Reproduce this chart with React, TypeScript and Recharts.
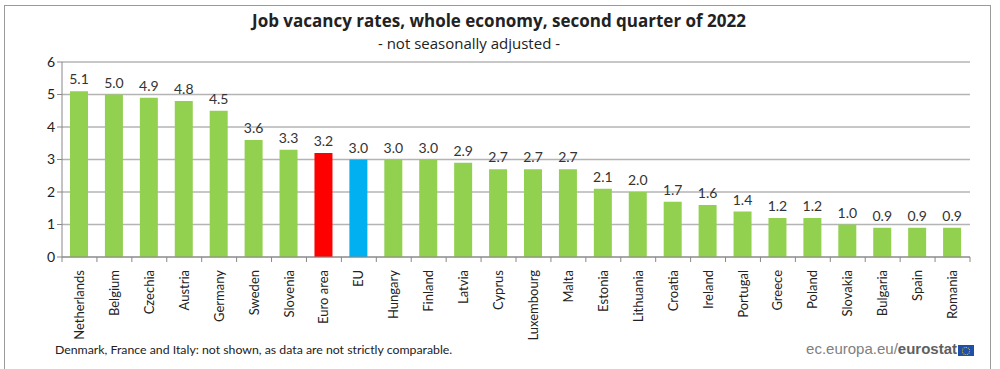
import { BarChart, Bar, XAxis, YAxis, CartesianGrid, Cell, LabelList } from 'recharts';

const countries = [
  'Netherlands', 'Belgium', 'Czechia', 'Austria', 'Germany', 'Sweden', 'Slovenia',
  'Euro area', 'EU', 'Hungary', 'Finland', 'Latvia', 'Cyprus', 'Luxembourg', 'Malta',
  'Estonia', 'Lithuania', 'Croatia', 'Ireland', 'Portugal', 'Greece', 'Poland',
  'Slovakia', 'Bulgaria', 'Spain', 'Romania',
];
const rates = [
  5.1, 5.0, 4.9, 4.8, 4.5, 3.6, 3.3, 3.2, 3.0, 3.0, 3.0, 2.9, 2.7, 2.7, 2.7,
  2.1, 2.0, 1.7, 1.6, 1.4, 1.2, 1.2, 1.0, 0.9, 0.9, 0.9,
];
const yTicks = [0, 1, 2, 3, 4, 5, 6];

const data = countries.map((name, i) => ({ name, value: rates[i] }));

const barColor = (name: string) =>
  name === 'Euro area' ? '#FF0000' : name === 'EU' ? '#00B0F0' : '#92D050';

const font = 'Lato, "Open Sans", sans-serif';

const CHART_W = 1000;
const M_LEFT = 30;
const M_RIGHT = 30;
const Y_W = 32;
const halfBand = (CHART_W - M_LEFT - M_RIGHT - Y_W) / countries.length / 2;

const CountryTick = (props: any) => {
  const { x, y, payload, index } = props;
  const top = y - 8;
  return (
    <g>
      <line x1={x - halfBand} x2={x - halfBand} y1={top} y2={top + 5} stroke="#888" />
      {index === countries.length - 1 && (
        <line x1={x + halfBand} x2={x + halfBand} y1={top} y2={top + 5} stroke="#888" />
      )}
      <text
        transform={`translate(${x + 4.5},${y + 5}) rotate(-90)`}
        textAnchor="end"
        fontSize={13}
        fill="#222"
        fontFamily={font}
      >
        {payload.value}
      </text>
    </g>
  );
};

export default function App() {
  return (
    <div style={{ position: 'absolute', left: 0, top: 0, width: 1000, height: 369, background: '#fff', fontFamily: font }}>
      <div style={{ position: 'absolute', left: 4, top: 5, width: 987, height: 370, border: '1px solid #9a9a9a', boxSizing: 'border-box' }} />
      <div style={{ position: 'absolute', left: 0, width: 998, top: 9, textAlign: 'center', fontWeight: 700, fontSize: 17, color: '#222', fontFamily: '"Open Sans", sans-serif' }}>
        Job vacancy rates, whole economy, second quarter of 2022
      </div>
      <div style={{ position: 'absolute', left: 0, width: 938, top: 33, textAlign: 'center', fontSize: 15, color: '#222', fontFamily: '"Open Sans", sans-serif' }}>
        - not seasonally adjusted -
      </div>

      <div style={{ position: 'absolute', left: 0, top: 0 }}>
        <BarChart width={CHART_W} height={369} data={data} margin={{ top: 62, right: M_RIGHT, left: M_LEFT, bottom: 0 }} barSize={18}>
          <CartesianGrid vertical={false} stroke="#b4b4b4" strokeWidth={1.5} />
          <XAxis
            dataKey="name"
            interval={0}
            height={112}
            tick={<CountryTick />}
            axisLine={{ stroke: '#888' }}
            tickLine={false}
          />
          <YAxis
            domain={[0, 6]}
            ticks={yTicks}
            width={Y_W}
            axisLine={{ stroke: '#888' }}
            tickLine={{ stroke: '#888' }}
            tickSize={5}
            tick={{ fontSize: 14, fill: '#222', fontFamily: font }}
          />
          <Bar dataKey="value" isAnimationActive={false}>
            {data.map((d) => (
              <Cell key={d.name} fill={barColor(d.name)} />
            ))}
            <LabelList
              dataKey="value"
              position="top"
              offset={7}
              fontSize={14}
              fill="#333"
              fontFamily={font}
              formatter={(v: any) => Number(v).toFixed(1)}
            />
          </Bar>
        </BarChart>
      </div>

      <div style={{ position: 'absolute', left: 55, top: 342, fontSize: 12.3, color: '#222' }}>
        Denmark, France and Italy: not shown, as data are not strictly comparable.
      </div>
      <div style={{ position: 'absolute', right: 43, top: 340, fontSize: 15, color: '#808080', fontFamily: '"Liberation Sans", Arial, sans-serif' }}>
        ec.europa.eu/<span style={{ fontWeight: 700, color: '#5f5f5f' }}>eurostat</span>
      </div>
      <div style={{ position: 'absolute', left: 958, top: 345, width: 16, height: 11, background: '#1f4fa8' }}>
        <div style={{ position: 'absolute', left: 4, top: 1.5, width: 6, height: 6, borderRadius: '50%', border: '1px dotted #f5d000' }} />
      </div>
    </div>
  );
}
